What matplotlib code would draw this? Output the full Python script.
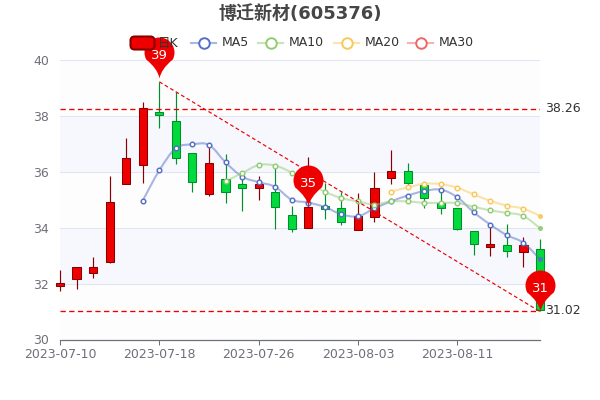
import matplotlib
matplotlib.use("Agg")
import matplotlib.pyplot as plt
from matplotlib.path import Path
from matplotlib.patches import PathPatch, FancyBboxPatch
from matplotlib.lines import Line2D

FONT = ['DejaVu Sans', 'Noto Sans CJK SC']
plt.rcParams['font.family'] = FONT

title = "博迁新材(605376)"
dates = ["2023-07-10", "2023-07-11", "2023-07-12", "2023-07-13", "2023-07-14",
         "2023-07-17", "2023-07-18", "2023-07-19", "2023-07-20", "2023-07-21",
         "2023-07-24", "2023-07-25", "2023-07-26", "2023-07-27", "2023-07-28",
         "2023-07-31", "2023-08-01", "2023-08-02", "2023-08-03", "2023-08-04",
         "2023-08-07", "2023-08-08", "2023-08-09", "2023-08-10", "2023-08-11",
         "2023-08-14", "2023-08-15", "2023-08-16", "2023-08-17", "2023-08-18"]
opens = [31.90, 32.18, 32.39, 32.76, 35.55, 36.25, 38.13, 37.80, 36.68, 35.19,
         35.73, 35.55, 35.42, 35.27, 34.44, 33.99, 34.78, 34.69, 33.90, 34.39,
         35.79, 36.02, 35.52, 34.89, 34.69, 33.87, 33.32, 33.39, 33.12, 33.24]
closes = [32.02, 32.58, 32.58, 34.91, 36.48, 38.27, 38.04, 36.48, 35.62, 36.30,
          35.27, 35.43, 35.55, 34.75, 33.96, 34.73, 34.68, 34.21, 34.42, 35.43,
          36.02, 35.61, 35.07, 34.69, 33.96, 33.42, 33.41, 33.15, 33.38, 31.05]
lows = [31.75, 31.80, 32.21, 32.73, 35.55, 35.59, 37.58, 36.27, 35.29, 35.15,
        34.87, 34.61, 35.00, 33.94, 33.86, 33.99, 34.30, 34.10, 33.90, 34.21,
        35.56, 35.50, 34.72, 34.48, 33.92, 33.03, 33.00, 32.94, 32.60, 31.02]
highs = [32.48, 32.58, 32.94, 35.85, 37.20, 38.50, 39.22, 38.87, 36.68, 36.96,
         36.63, 35.85, 35.86, 36.13, 34.78, 36.54, 35.59, 35.27, 35.23, 35.98,
         36.78, 36.30, 35.55, 35.31, 34.69, 33.87, 34.10, 34.12, 33.66, 33.60]

ma5 = [None] * 5 + [34.97, 36.05, 36.84, 36.98, 36.96, 36.34, 35.83, 35.63, 35.46,
                    35.00, 34.90, 34.74, 34.48, 34.41, 34.69, 34.94, 35.15, 35.31,
                    35.36, 35.09, 34.55, 34.11, 33.73, 33.46, 32.87]
ma10 = [None] * 10 + [35.66, 35.95, 36.24, 36.22, 35.97, 35.62, 35.29, 35.06, 34.94,
                      34.83, 34.94, 34.94, 34.89, 34.89, 34.88, 34.75, 34.62, 34.53,
                      34.42, 33.98]
ma20 = [None] * 20 + [35.29, 35.44, 35.57, 35.56, 35.43, 35.19, 34.96, 34.79, 34.68, 34.42]
ma_names = ["MA5", "MA10", "MA20", "MA30"]
ma_colors = ["#5470c6", "#91cc75", "#fac858", "#ee6666"]

mark_lines = [38.26, 31.02]
pin_idx = [6, 15, 29]
pin_vals = [39.34, 34.77, 31.02]
pin_labels = ["39", "35", "31"]
trend_idx = [6, 29]
trend_vals = [39.22, 31.00]
band_edges = [30, 32, 34, 36, 38, 40]
band_colors = ["#fdfdfe", "#f6f8fd", "#fdfdfe", "#f6f8fd", "#fdfdfe"]

UP, UP_E = "#ee0000", "#8a0000"
DN, DN_E = "#00da3c", "#008f28"
TICK_C = "#6e7079"
GRID_C = "#e0e6f1"
MARK_C = "#ee0000"

fig = plt.figure(figsize=(6, 4), dpi=100)
ax = fig.add_axes([60 / 600, 60.5 / 400, 480 / 600, 279.5 / 400])
xs = list(range(len(dates)))
ax.set_xlim(0, len(dates) - 1)
ax.set_ylim(30, 40)
for s in ("top", "left", "right"):
    ax.spines[s].set_visible(False)
ax.spines["bottom"].set_color(TICK_C)
ax.spines["bottom"].set_linewidth(0.9)
ax.spines["bottom"].set_zorder(2)

for lo, hi, c in zip(band_edges[:-1], band_edges[1:], band_colors):
    ax.axhspan(lo, hi, color=c, lw=0, zorder=0)
for v in band_edges[1:]:
    ax.axhline(v, color=GRID_C, lw=0.75, zorder=1)

ax.set_yticks(band_edges)
ax.set_xticks(xs[::6])
ax.set_xticklabels(dates[::6])
ax.tick_params(axis="y", length=0, pad=8, labelsize=9, labelcolor=TICK_C)
ax.tick_params(axis="x", length=3.6, width=0.75, color=TICK_C, pad=2.5, labelsize=9, labelcolor=TICK_C)

# candles
for x, o, c, l, h in zip(xs, opens, closes, lows, highs):
    up = c >= o
    ec = UP_E if up else DN_E
    ax.vlines(x, l, h, color=ec, lw=0.85, zorder=3, clip_on=False)
    ax.bar(x, abs(c - o), bottom=min(o, c), width=0.49, color=UP if up else DN,
           edgecolor=ec, linewidth=0.75, zorder=4, clip_on=False)


def smooth_path(px, py, k=0.18):
    verts = [(px[0], py[0])]
    codes = [Path.MOVETO]
    n = len(px)
    for i in range(n - 1):
        a, b = max(i - 1, 0), min(i + 2, n - 1)
        verts.append((px[i] + (px[i + 1] - px[a]) * k, py[i] + (py[i + 1] - py[a]) * k))
        verts.append((px[i + 1] - (px[b] - px[i]) * k, py[i + 1] - (py[b] - py[i]) * k))
        verts.append((px[i + 1], py[i + 1]))
        codes += [Path.CURVE4] * 3
    return Path(verts, codes)


for series, col in zip((ma5, ma10, ma20), ma_colors):
    px = [x for x, v in zip(xs, series) if v is not None]
    py = [v for v in series if v is not None]
    ax.add_patch(PathPatch(smooth_path(px, py), fill=False, edgecolor=col, alpha=0.5,
                           lw=1.5, zorder=5, clip_on=False))
    ax.plot(px[:-1], py[:-1], ls="", marker="o", ms=3.3, mfc="white", mec=col, mew=1.05,
            zorder=6, clip_on=False)
    ax.plot(px[-1:], py[-1:], ls="", marker="o", ms=2.6, mfc=col, mec=col, alpha=0.9, zorder=6,
            clip_on=False)

# mark lines
for v in mark_lines:
    ax.plot([xs[0], xs[-1]], [v, v], color=MARK_C, lw=0.95, dashes=(4, 2.6), zorder=7)
    ax.annotate(f"{v:.2f}", (xs[-1], v), xytext=(3.6, 0), textcoords="offset points",
                va="center", ha="left", fontsize=9, color="#333333", annotation_clip=False)
ax.plot(trend_idx, trend_vals, color=MARK_C, lw=0.85, dashes=(3.2, 2.2), zorder=7, clip_on=False)

# legend (under the pins)
def fx(px):
    return px / 600


def fy(py):
    return 1 - py / 400


fig.add_artist(FancyBboxPatch((fx(130.5), fy(49.5)), 24 / 600, 13 / 400,
                              boxstyle="round,pad=0,rounding_size=0.007",
                              transform=fig.transFigure, mutation_aspect=1.5,
                              fc=UP, ec=UP_E, lw=1.5, zorder=3))
fig.text(fx(158), fy(43), "日K", fontsize=9, color="#333333", va="center", ha="left", zorder=3)
leg_x = [191, 258, 334, 408]
for name, col, x0 in zip(ma_names, ma_colors, leg_x):
    fig.add_artist(Line2D([fx(x0), fx(x0 + 25)], [fy(43), fy(43)], color=col, alpha=0.5, lw=1.5,
                          transform=fig.transFigure))
    fig.add_artist(Line2D([fx(x0 + 12.5)], [fy(43)], ls="", marker="o", ms=7.6, mfc="white", mec=col,
                          mew=1.4, transform=fig.transFigure))
    fig.text(fx(x0 + 30.5), fy(43), name, fontsize=9, color="#333333", va="center", ha="left")

fig.text(0.5, fy(14), title, fontsize=13, fontweight="bold", color="#464646",
         ha="center", va="center")

# pins: tip sits on the data point
R, D = 15.0, 26.0
arc = Path.arc(-28, 208)
a_verts = [(vx * R, vy * R + D) for vx, vy in arc.vertices]
pin_verts = [(0, 0), (1.6, 9.5), a_verts[0]] + a_verts[1:] + [(-1.6, 9.5), (0, 0)]
pin_codes = [Path.MOVETO, Path.CURVE3, Path.CURVE3] + list(arc.codes[1:]) + [Path.CURVE3, Path.CURVE3]
PIN = Path(pin_verts, pin_codes)
pin_ms = 2 * (D + R) * 72 / 100
for x, v, lab in zip(pin_idx, pin_vals, pin_labels):
    ax.plot([x], [v], marker=PIN, ms=pin_ms, mfc=MARK_C, mec="none", mew=0, ls="",
            zorder=8, clip_on=False)
    ax.annotate(lab, (x, v), xytext=(0, 16.5), textcoords="offset points", ha="center",
                va="center", color="white", fontsize=9.5, zorder=9, annotation_clip=False)

fig.savefig("out.png", dpi=100)
